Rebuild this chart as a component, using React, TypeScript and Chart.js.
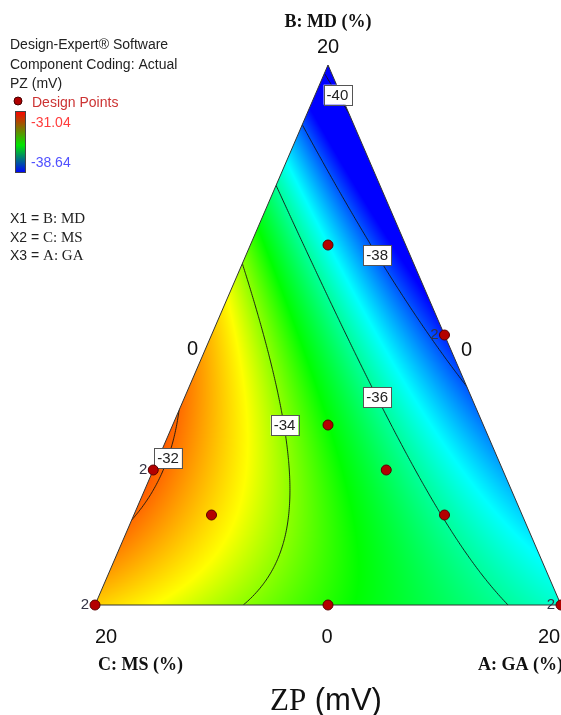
import React, { useEffect, useRef } from "react";
import { Chart, registerables } from "chart.js";
Chart.register(...registerables);

// ---- Data ----
const axisTitles = ["A: GA (%)", "B: MD (%)", "C: MS (%)"];
const vertexTickLabels = ["20", "20", "20"];
const edgeTickLabels = ["0", "0", "0"];
// Fitted Scheffé quadratic mixture model for PZ (mV), pseudo-fractions A, B, C
const linearTerms = [-36.4, -40.35, -32.88]; // A, B, C
const blendTerms = [0, 0, 15.5]; // AB, AC, BC
const contourLevels = [-40, -38, -36, -34, -32];
const colorRange = [-38.64, -31.04];
// Design points (fractions of 20 %)
const designA = [1 / 6, 0.5, 1 / 3, 0.5, 2 / 3, 1 / 6, 0, 0, 0.5, 1];
const designB = [2 / 3, 0.5, 1 / 3, 0.25, 1 / 6, 1 / 6, 0.25, 0, 0, 0];
const designC = [1 / 6, 0, 1 / 3, 0.25, 1 / 6, 2 / 3, 0.75, 1, 0.5, 0];
const replicates = [1, 2, 1, 1, 1, 1, 2, 2, 1, 2];
const infoLines = ["Design-Expert® Software", "Component Coding: Actual", "PZ (mV)"];
const factorLines = [
  ["X1 = ", "B: MD"],
  ["X2 = ", "C: MS"],
  ["X3 = ", "A: GA"],
];
const chartTitle = ["ZP", " (mV)"];

const SANS = '"Liberation Sans", Arial, sans-serif';
const SERIF = '"Liberation Serif", "Times New Roman", serif';

function model(a: number, b: number, c: number) {
  return (
    linearTerms[0] * a +
    linearTerms[1] * b +
    linearTerms[2] * c +
    blendTerms[0] * a * b +
    blendTerms[1] * a * c +
    blendTerms[2] * b * c
  );
}
function modelXY(x: number, y: number) {
  const b = y;
  const a = x - y / 2;
  const c = 1 - a - b;
  return model(a, b, c);
}
// colour scale stops: t -> hue (deg)
const hueStops = [
  [0, 240],
  [0.25, 180],
  [0.5, 120],
  [0.7, 60],
  [1, 0],
];
function hueRGB(v: number): [number, number, number] {
  let t = (v - colorRange[0]) / (colorRange[1] - colorRange[0]);
  t = Math.max(0, Math.min(1, t));
  let hue = 0;
  for (let i = 0; i < hueStops.length - 1; i++) {
    const [t0, h0] = hueStops[i];
    const [t1, h1] = hueStops[i + 1];
    if (t <= t1) {
      hue = h0 + ((t - t0) / (t1 - t0)) * (h1 - h0);
      break;
    }
  }
  const h = hue / 60;
  const x = 1 - Math.abs((h % 2) - 1);
  let r = 0, g = 0, bl = 0;
  if (h < 1) { r = 1; g = x; }
  else if (h < 2) { r = x; g = 1; }
  else if (h < 3) { g = 1; bl = x; }
  else if (h < 4) { g = x; bl = 1; }
  else { r = x; bl = 1; }
  return [r * 255, g * 255, bl * 255];
}

const contourLabelHeights = [0.945, 0.648, 0.385, 0.333, 0.272];

const ternaryPlugin = {
  id: "ternary",
  beforeDatasetsDraw(chart: any) {
    const ctx: CanvasRenderingContext2D = chart.ctx;
    const xs = chart.scales.x;
    const ys = chart.scales.y;
    const P = (x: number, y: number) => [xs.getPixelForValue(x), ys.getPixelForValue(y)];
    const [lx, ly] = P(0, 0);
    const [rx] = P(1, 0);
    const [tx, ty] = P(0.5, 1);
    const triPath = () => {
      ctx.beginPath();
      ctx.moveTo(lx, ly);
      ctx.lineTo(rx, ly);
      ctx.lineTo(tx, ty);
      ctx.closePath();
    };
    // colour field
    const x0 = Math.floor(lx), x1 = Math.ceil(rx), y0 = Math.floor(ty), y1 = Math.ceil(ly);
    const w = x1 - x0 + 1, h = y1 - y0 + 1;
    const off = document.createElement("canvas");
    off.width = w; off.height = h;
    const octx = off.getContext("2d")!;
    const img = octx.createImageData(w, h);
    for (let j = 0; j < h; j++) {
      const yv = ys.getValueForPixel(y0 + j + 0.5);
      for (let i = 0; i < w; i++) {
        const xv = xs.getValueForPixel(x0 + i + 0.5);
        const v = modelXY(xv, yv);
        const [r, g, b] = hueRGB(v);
        const k = (j * w + i) * 4;
        img.data[k] = r; img.data[k + 1] = g; img.data[k + 2] = b; img.data[k + 3] = 255;
      }
    }
    octx.putImageData(img, 0, 0);
    ctx.save();
    triPath();
    ctx.clip();
    ctx.drawImage(off, x0, y0);
    // contours (marching squares)
    const N = 260;
    const grid: number[][] = [];
    for (let i = 0; i <= N; i++) {
      grid.push([]);
      for (let j = 0; j <= N; j++) grid[i].push(modelXY(i / N, j / N));
    }
    ctx.strokeStyle = "rgba(20,20,20,0.9)";
    ctx.lineWidth = 1;
    ctx.beginPath();
    for (const L of contourLevels) {
      for (let i = 0; i < N; i++) {
        for (let j = 0; j < N; j++) {
          const v00 = grid[i][j], v10 = grid[i + 1][j], v11 = grid[i + 1][j + 1], v01 = grid[i][j + 1];
          const pts: number[][] = [];
          const X0 = i / N, X1 = (i + 1) / N, Y0 = j / N, Y1 = (j + 1) / N;
          const edge = (va: number, vb: number, xa: number, ya: number, xb: number, yb: number) => {
            if ((va - L) * (vb - L) < 0) {
              const t = (L - va) / (vb - va);
              pts.push([xa + (xb - xa) * t, ya + (yb - ya) * t]);
            }
          };
          edge(v00, v10, X0, Y0, X1, Y0);
          edge(v10, v11, X1, Y0, X1, Y1);
          edge(v01, v11, X0, Y1, X1, Y1);
          edge(v00, v01, X0, Y0, X0, Y1);
          for (let k = 0; k + 1 < pts.length; k += 2) {
            const [ax, ay] = P(pts[k][0], pts[k][1]);
            const [bx, by] = P(pts[k + 1][0], pts[k + 1][1]);
            ctx.moveTo(ax, ay);
            ctx.lineTo(bx, by);
          }
        }
      }
    }
    ctx.stroke();
    ctx.restore();
    // outline
    triPath();
    ctx.strokeStyle = "#333";
    ctx.lineWidth = 1;
    ctx.stroke();
    // contour labels
    ctx.font = `15px ${SANS}`;
    ctx.textAlign = "center";
    ctx.textBaseline = "middle";
    contourLevels.forEach((L, idx) => {
      const b = contourLabelHeights[idx];
      const steps = 600;
      let prev = model(0, b, 1 - b) - L;
      for (let s = 1; s <= steps; s++) {
        const a = ((1 - b) * s) / steps;
        const cur = model(a, b, 1 - a - b) - L;
        if (prev * cur <= 0) {
          const [px, py] = P(a + b / 2, b);
          const text = String(L);
          const tw = ctx.measureText(text).width;
          ctx.fillStyle = "#fff";
          ctx.fillRect(px - tw / 2 - 3, py - 10, tw + 6, 20);
          ctx.strokeStyle = "#555";
          ctx.strokeRect(Math.round(px - tw / 2 - 3) + 0.5, Math.round(py - 10) + 0.5, Math.round(tw + 6), 20);
          ctx.fillStyle = "#222";
          ctx.fillText(text, px, py + 1);
          break;
        }
        prev = cur;
      }
    });
  },
  afterDraw(chart: any) {
    const ctx: CanvasRenderingContext2D = chart.ctx;
    const xs = chart.scales.x;
    const ys = chart.scales.y;
    const P = (x: number, y: number) => [xs.getPixelForValue(x), ys.getPixelForValue(y)];
    ctx.save();
    // replicate labels
    ctx.font = `15px ${SANS}`;
    ctx.fillStyle = "#333344";
    ctx.textAlign = "right";
    ctx.textBaseline = "middle";
    designA.forEach((a, i) => {
      if (replicates[i] > 1) {
        const [px, py] = P(a + designB[i] / 2, designB[i]);
        ctx.fillText(String(replicates[i]), px - 6, py);
      }
    });
    // ternary tick labels
    const [lx, ly] = P(0, 0);
    const [rx] = P(1, 0);
    const [tx, ty] = P(0.5, 1);
    ctx.fillStyle = "#111";
    ctx.font = `20px ${SANS}`;
    ctx.textAlign = "center";
    ctx.textBaseline = "alphabetic";
    ctx.fillText(vertexTickLabels[1], tx, ty - 12);
    ctx.fillText(vertexTickLabels[2], lx + 11, ly + 38);
    ctx.fillText(vertexTickLabels[0], rx - 12, ly + 38);
    ctx.fillText(edgeTickLabels[1], (lx + rx) / 2 - 1, ly + 38);
    const [mlx, mly] = P(0.25, 0.5);
    const [mrx, mry] = P(0.75, 0.5);
    ctx.fillText(edgeTickLabels[0], mlx - 19, mly + 20);
    ctx.fillText(edgeTickLabels[2], mrx + 22, mry + 21);
    // axis titles
    ctx.font = `bold 18px ${SERIF}`;
    ctx.fillText(axisTitles[1], tx, 27);
    ctx.textAlign = "left";
    ctx.fillText(axisTitles[2], 98, ly + 65);
    ctx.fillText(axisTitles[0], 478, ly + 65);
    // chart title
    ctx.font = `31px ${SERIF}`;
    const w1 = ctx.measureText(chartTitle[0]).width;
    ctx.fillText(chartTitle[0], 270, 710);
    ctx.font = `31px ${SANS}`;
    ctx.fillText(chartTitle[1], 270 + w1, 710);
    // info block
    ctx.font = `14px ${SANS}`;
    ctx.fillStyle = "#222";
    infoLines.forEach((t, i) => ctx.fillText(t, 10, 49 + i * 19.5));
    ctx.beginPath();
    ctx.arc(18, 101, 4, 0, Math.PI * 2);
    ctx.fillStyle = "#b00000";
    ctx.fill();
    ctx.strokeStyle = "#400";
    ctx.stroke();
    ctx.fillStyle = "#cc3333";
    ctx.fillText("Design Points", 32, 107);
    const grad = ctx.createLinearGradient(0, 111, 0, 173);
    grad.addColorStop(0, "rgb(255,0,0)");
    grad.addColorStop(0.55, "rgb(0,230,0)");
    grad.addColorStop(1, "rgb(0,0,255)");
    ctx.fillStyle = grad;
    ctx.fillRect(15, 111, 11, 62);
    ctx.strokeStyle = "#444";
    ctx.strokeRect(15.5, 111.5, 10, 61);
    ctx.fillStyle = "rgb(255,60,60)";
    ctx.fillText(colorRange[1].toFixed(2), 31, 127);
    ctx.fillStyle = "rgb(80,80,255)";
    ctx.fillText(colorRange[0].toFixed(2), 31, 167);
    factorLines.forEach(([p, q], i) => {
      const y = 223 + i * 18.5;
      ctx.font = `14px ${SANS}`;
      ctx.fillStyle = "#222";
      ctx.fillText(p, 10, y);
      const pw = ctx.measureText(p).width;
      ctx.font = `15px ${SERIF}`;
      ctx.fillText(q, 10 + pw, y);
    });
    ctx.restore();
  },
};

export default function App() {
  const ref = useRef<HTMLCanvasElement | null>(null);
  useEffect(() => {
    if (!ref.current) return;
    const pts = designA.map((a, i) => ({ x: a + designB[i] / 2, y: designB[i] }));
    const chart = new Chart(ref.current, {
      type: "scatter",
      data: {
        datasets: [
          {
            label: "Design Points",
            data: pts,
            pointRadius: 5,
            pointBackgroundColor: "#b40000",
            pointBorderColor: "#5a0000",
            pointBorderWidth: 1,
            clip: false as any,
          },
        ],
      },
      options: {
        animation: false,
        responsive: true,
        maintainAspectRatio: false,
        layout: { autoPadding: false, padding: { left: 95, right: -2, top: 65, bottom: 110 } },
        scales: {
          x: { type: "linear", min: 0, max: 1, display: false },
          y: { type: "linear", min: 0, max: 1, display: false },
        },
        plugins: { legend: { display: false }, tooltip: { enabled: false } },
        events: [],
      },
      plugins: [ternaryPlugin],
    });
    return () => chart.destroy();
  }, []);
  return (
    <div style={{ position: "absolute", left: 0, top: 0, width: 561, height: 715, background: "#fff" }}>
      <canvas ref={ref} />
    </div>
  );
}
